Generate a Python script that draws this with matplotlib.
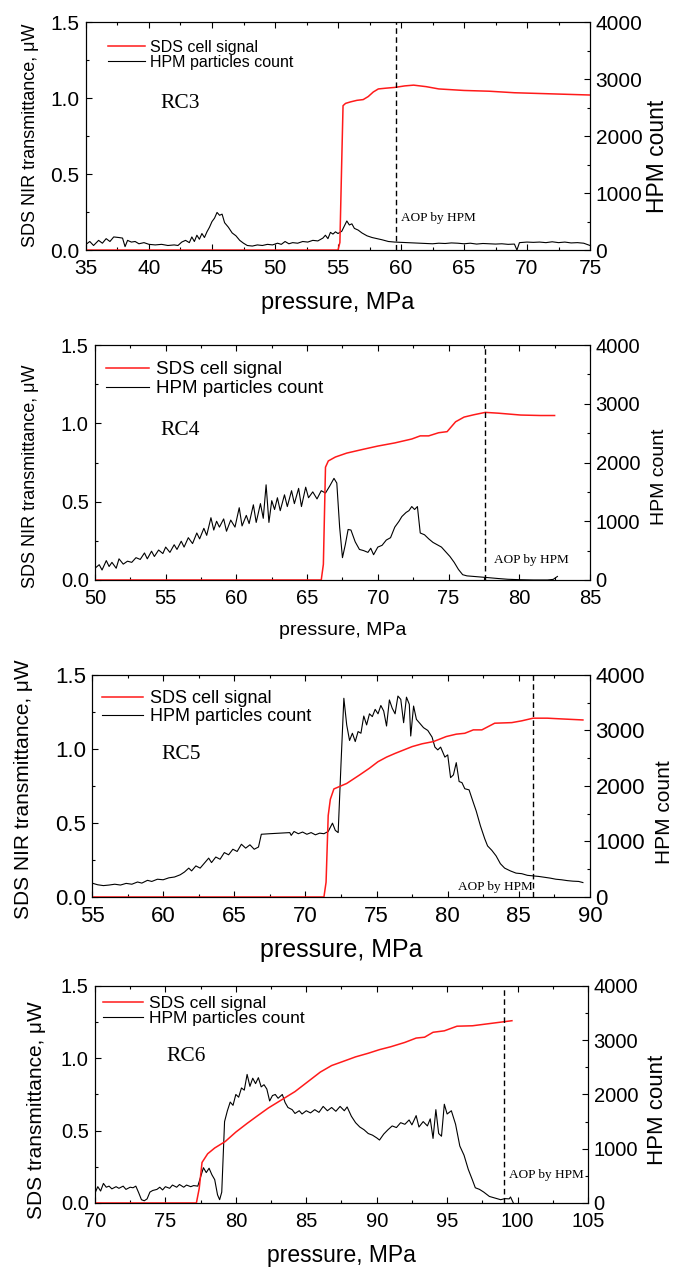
import matplotlib
matplotlib.use("Agg")
from matplotlib import pyplot as plt
from matplotlib.ticker import MultipleLocator

plt.rcParams['font.family'] = ['Liberation Sans', 'DejaVu Sans']

# ---- RC3 ----
rc3_sds_p = [35.0, 55.0, 55.15, 55.3, 55.4, 55.6, 56.0, 56.5, 57.0, 57.4, 57.8, 58.2, 58.8,
             59.5, 60.3, 61.0, 62.0, 63.0, 65.0, 67.0, 69.0, 71.0, 73.0, 75.0]
rc3_sds = [0.0, 0.0, 0.05, 0.6, 0.95, 0.965, 0.975, 0.985, 0.99, 1.01, 1.04, 1.06, 1.065,
           1.07, 1.08, 1.085, 1.075, 1.06, 1.05, 1.045, 1.035, 1.03, 1.025, 1.02]
rc3_hpm_p = [35.0, 35.3, 35.6, 36.0, 36.3, 36.6, 36.9, 37.2, 37.6, 37.9, 38.1, 38.3, 38.6, 38.9,
             39.2, 39.6, 40.0, 40.5, 41.0, 41.5, 42.0, 42.3, 42.6, 42.9, 43.2, 43.4, 43.6, 43.8,
             44.0, 44.2, 44.4, 44.6, 44.8, 45.0, 45.2, 45.4, 45.6, 45.8, 46.0, 46.3, 46.6, 46.9,
             47.2, 47.5, 47.8, 48.2, 48.6, 49.0, 49.4, 49.8, 50.2, 50.5, 50.8, 51.1, 51.4, 51.8,
             52.2, 52.6, 53.0, 53.4, 53.8, 54.0, 54.2, 54.4, 54.6, 54.8, 55.0, 55.3, 55.5, 55.7,
             55.9, 56.1, 56.3, 56.6, 56.9, 57.3, 57.7, 58.1, 58.5, 59.0, 59.5, 60.0, 60.5, 61.0,
             61.5, 62.0, 62.5, 63.0, 63.5, 64.0, 64.5, 65.0, 65.5, 66.0, 66.5, 67.0, 67.5, 68.0,
             68.5, 69.0, 69.2, 69.4, 70.0, 70.5, 71.0, 71.5, 72.0, 72.5, 73.0, 73.5, 74.0, 74.5,
             75.0]
rc3_hpm = [100, 150, 80, 170, 120, 200, 150, 230, 220, 210, 60, 170, 140, 150,
           110, 130, 100, 90, 100, 80, 90, 80, 140, 170, 130, 230, 150, 260,
           190, 290, 220, 320, 400, 500, 560, 660, 610, 630, 480, 400, 300, 250,
           170, 120, 80, 70, 90, 80, 100, 90, 120, 100, 150, 110, 130, 120,
           150, 140, 170, 160, 210, 260, 200, 310, 280, 320, 290, 330, 420, 510,
           440, 460, 380, 350, 300, 250, 220, 200, 180, 150, 140, 135, 130, 125,
           120, 115, 110, 120, 115, 125, 120, 110, 120, 105, 115, 110, 105, 110,
           100, 105, 0, 130, 140, 135, 140, 130, 145, 130, 140, 125, 130, 120,
           80]

# ---- RC4 ----
rc4_sds_p = [50.0, 66.0, 66.15, 66.3, 66.5, 67.0, 67.8, 69.0, 70.0, 71.2, 72.4, 73.0, 73.6,
             74.3, 74.9, 75.5, 76.1, 76.8, 77.6, 78.5, 80.1, 81.5, 82.5]
rc4_sds = [0.0, 0.0, 0.1, 0.72, 0.76, 0.785, 0.81, 0.835, 0.855, 0.875, 0.9, 0.92, 0.92,
           0.94, 0.947, 1.01, 1.04, 1.055, 1.07, 1.065, 1.053, 1.05, 1.05]
rc4_hpm_p = [50.0, 50.3, 50.5, 50.8, 51.0, 51.2, 51.5, 51.7, 52.0, 52.3, 52.6, 52.9, 53.2,
             53.5, 53.7, 54.0, 54.2, 54.5, 54.8, 55.0, 55.3, 55.6, 55.8, 56.1, 56.3, 56.6,
             56.9, 57.2, 57.4, 57.7, 57.9, 58.2, 58.4, 58.6, 58.8, 59.1, 59.3, 59.6, 59.9,
             60.2, 60.4, 60.7, 60.9, 61.2, 61.4, 61.7, 61.9, 62.1, 62.3, 62.5, 62.7, 62.9,
             63.1, 63.4, 63.6, 63.9, 64.1, 64.4, 64.6, 64.9, 65.1, 65.4, 65.7, 66.0, 66.3,
             66.6, 66.9, 67.1, 67.3, 67.5, 67.7, 67.9, 68.1, 68.4, 68.7, 69.0, 69.3, 69.5,
             69.7, 70.0, 70.3, 70.6, 70.9, 71.2, 71.5, 71.7, 72.0, 72.2, 72.4, 72.6, 72.8,
             73.0, 73.3, 73.6, 73.9, 74.2, 74.5, 74.8, 75.1, 75.4, 75.7, 76.0, 76.3, 76.8,
             77.3, 77.8, 78.5, 79.2, 80.0, 81.0, 82.0, 82.4, 82.7]
rc4_hpm = [200, 260, 170, 330, 230, 300, 200, 360, 270, 320, 300, 380, 350,
           460, 360, 490, 400, 510, 450, 560, 470, 600, 520, 660, 560, 720,
           620, 800, 700, 880, 760, 1060, 850, 1000, 900, 1040, 830, 1020, 900,
           1230, 920, 1100, 960, 1280, 980, 1300, 1050, 1620, 980, 1350, 1200, 1400,
           1180, 1450, 1250, 1520, 1300, 1560, 1250, 1580, 1400, 1500, 1380, 1520, 1480,
           1600, 1730, 1650, 900, 380, 600, 860, 850, 650, 520, 500, 470, 540,
           430, 560, 590, 680, 720, 900, 1000, 1080, 1150, 1180, 1250, 1200, 1250,
           800, 770, 700, 640, 600, 560, 480, 400, 300, 180, 90, 70, 60,
           50, 40, 25, 12, 5, 0, 0, 10, 60]

# ---- RC5 ----
rc5_sds_p = [55.0, 71.3, 71.45, 71.6, 71.75, 72.0, 72.9, 73.8, 74.5, 75.1, 75.7, 76.3, 77.5,
             78.2, 79.0, 79.9, 80.6, 81.2, 81.8, 82.4, 83.3, 84.5, 85.2, 86.0, 87.0, 88.0, 89.5]
rc5_sds = [0.0, 0.0, 0.1, 0.55, 0.66, 0.73, 0.767, 0.824, 0.87, 0.914, 0.945, 0.97, 1.016,
           1.035, 1.05, 1.084, 1.1, 1.106, 1.129, 1.129, 1.174, 1.178, 1.19, 1.208, 1.208, 1.203, 1.196]
rc5_hpm_p = [55.0, 55.4, 55.8, 56.2, 56.6, 57.0, 57.4, 57.8, 58.2, 58.5, 58.9, 59.2, 59.6,
             60.0, 60.4, 60.8, 61.2, 61.5, 61.8, 62.0, 62.3, 62.6, 62.9, 63.2, 63.4, 63.7,
             64.0, 64.3, 64.6, 64.9, 65.2, 65.5, 65.8, 66.1, 66.4, 66.7, 66.9, 67.5, 68.2,
             68.9, 69.0, 69.2, 69.5, 69.8, 70.1, 70.4, 70.7, 71.0, 71.3, 71.6, 71.9, 72.1,
             72.3, 72.5, 72.7, 72.9, 73.1, 73.3, 73.5, 73.7, 73.9, 74.1, 74.3, 74.5, 74.7,
             74.9, 75.1, 75.3, 75.5, 75.7, 75.9, 76.1, 76.3, 76.5, 76.7, 76.9, 77.1, 77.3,
             77.4, 77.6, 77.8, 78.0, 78.3, 78.6, 78.9, 79.1, 79.3, 79.5, 79.8, 80.0, 80.2,
             80.4, 80.6, 80.8, 81.0, 81.2, 81.5, 81.8, 82.0, 82.3, 82.6, 82.8, 83.1, 83.4,
             83.7, 84.0, 84.4, 84.8, 85.2, 85.6, 86.0, 86.4, 86.8, 87.2, 87.6, 88.0, 88.4,
             88.8, 89.2, 89.5]
rc5_hpm = [250, 220, 205, 215, 230, 215, 245, 230, 270, 250, 300, 280, 320,
           310, 345, 360, 400, 450, 520, 470, 560, 520, 610, 700, 620, 720,
           680, 800, 760, 860, 820, 950, 880, 940, 860, 900, 1130, 1140, 1150,
           1160, 1110, 1180, 1140, 1170, 1130, 1160, 1120, 1150, 1140, 1180, 1330, 1200,
           1160, 2400, 3580, 3100, 2820, 2950, 2800, 2980, 2950, 3260, 3100, 3300, 3250,
           3380, 3300, 3450, 3350, 3080, 3550, 3400, 3300, 3620, 3560, 3140, 3600, 3470,
           2900, 3440, 3200, 3140, 3050, 3000, 2880, 2700, 2650, 2700, 2520, 2560, 2150,
           2200, 2420, 2080, 2060, 1950, 1930, 1700, 1550, 1280, 1050, 920, 840, 740,
           600, 520, 470, 430, 420, 390, 380, 370, 355, 340, 320, 310, 295,
           285, 280, 260]

# ---- RC6 ----
rc6_sds_p = [70.0, 77.2, 77.4, 77.6, 77.8, 78.0, 78.5, 79.25, 80.0, 80.8, 81.5, 82.3, 83.2,
             84.2, 85.0, 86.0, 86.8, 87.6, 88.5, 89.4, 90.2, 91.0, 92.0, 92.8, 93.4, 94.0,
             94.8, 95.7, 96.8, 98.0, 99.6]
rc6_sds = [0.0, 0.0, 0.1, 0.28, 0.31, 0.34, 0.38, 0.425, 0.49, 0.55, 0.6, 0.656, 0.71,
           0.77, 0.83, 0.905, 0.95, 0.978, 1.01, 1.035, 1.06, 1.08, 1.11, 1.14, 1.146, 1.18,
           1.19, 1.222, 1.225, 1.24, 1.26]
rc6_hpm_p = [70.0, 70.2, 70.4, 70.6, 70.8, 71.0, 71.2, 71.5, 71.7, 72.0, 72.2, 72.5, 72.7,
             72.9, 73.1, 73.3, 73.5, 73.7, 73.9, 74.1, 74.4, 74.6, 74.8, 75.0, 75.3, 75.5,
             75.8, 76.0, 76.3, 76.5, 76.8, 77.0, 77.3, 77.5, 77.7, 77.9, 78.1, 78.3, 78.5,
             78.7, 78.85, 79.0, 79.2, 79.4, 79.6, 79.8, 80.0, 80.2, 80.4, 80.6, 80.8, 81.0,
             81.2, 81.4, 81.6, 81.8, 82.0, 82.2, 82.4, 82.6, 82.8, 83.0, 83.3, 83.5, 83.7,
             84.0, 84.2, 84.5, 84.7, 85.0, 85.3, 85.6, 85.9, 86.2, 86.5, 86.8, 87.1, 87.4,
             87.7, 87.9, 88.2, 88.5, 88.8, 89.1, 89.4, 89.7, 90.0, 90.2, 90.5, 90.8, 91.1,
             91.4, 91.7, 92.0, 92.3, 92.5, 92.8, 93.0, 93.3, 93.6, 93.8, 94.0, 94.2, 94.4,
             94.6, 94.8, 95.0, 95.3, 95.6, 95.9, 96.2, 96.5, 96.8, 97.0, 97.3, 97.6, 98.0,
             98.4, 98.8, 99.1, 99.4, 99.5, 99.7]
rc6_hpm = [180, 300, 220, 360, 290, 310, 260, 300, 270, 310, 250, 290, 280,
           310, 190, 60, 40, 75, 200, 230, 250, 290, 240, 300, 270, 330,
           290, 340, 290, 330, 300, 320, 310, 480, 650, 560, 640, 520, 430,
           150, 60, 200, 1500, 1700, 1860, 1800, 2000, 1950, 2120, 2080, 2370, 2150,
           2300, 2200, 2310, 2140, 2180, 2100, 1880, 1980, 2000, 1930, 2000, 1850, 1760,
           1720, 1650, 1700, 1640, 1700, 1660, 1720, 1670, 1780, 1700, 1760, 1690, 1780,
           1700, 1770, 1600, 1480, 1400, 1350, 1280, 1250, 1200, 1160, 1270, 1350, 1420,
           1390, 1480, 1450, 1530, 1440, 1610, 1400, 1500, 1420, 1550, 1190, 1720, 1280,
           1230, 1820, 1640, 1700, 1450, 1050, 880, 620, 420, 280, 250, 200, 120,
           90, 60, 80, 75, 110, 0]

panels = [
    dict(name='RC3', rect=[0.1274, 0.8028, 0.7467, 0.1798], xlim=(35, 75),
         sds=(rc3_sds_p, rc3_sds), hpm=(rc3_hpm_p, rc3_hpm),
         aop=59.6, aop_txt=(60.0, 0.21, 'left'), rc=(42.5, 0.967),
         ylab='SDS NIR transmittance, \u03bcW',
         tick=15, left=13, right=16.5, xl=17, leg=11.5,
         leg_xy=(0.044, 0.857), leg_sp=0.0,
         left_xy=(-0.111, 0.504), right_xy=(1.133, 0.41), xl_y=-0.232),
    dict(name='RC4', rect=[0.1407, 0.5426, 0.7333, 0.1853], xlim=(50, 85),
         sds=(rc4_sds_p, rc4_sds), hpm=(rc4_hpm_p, rc4_hpm),
         aop=77.6, aop_txt=(78.2, 0.13, 'left'), rc=(56.0, 0.957),
         ylab='SDS NIR transmittance, \u03bcW',
         tick=14.5, left=13, right=14, xl=14, leg=13.5,
         leg_xy=(0.023, 0.855), leg_sp=0.1,
         left_xy=(-0.131, 0.44), right_xy=(1.141, 0.44), xl_y=-0.213),
    dict(name='RC5', rect=[0.1363, 0.2926, 0.7378, 0.1751], xlim=(55, 90),
         sds=(rc5_sds_p, rc5_sds), hpm=(rc5_hpm_p, rc5_hpm),
         aop=86.0, aop_txt=(86.0, 0.07, 'right'), rc=(61.25, 0.96),
         ylab='SDS NIR transmittance, \u03bcW',
         tick=16, left=15, right=15, xl=18, leg=13,
         leg_xy=(0.02, 0.853), leg_sp=0.05,
         left_xy=(-0.137, 0.486), right_xy=(1.15, 0.38), xl_y=-0.239),
    dict(name='RC6', rect=[0.1407, 0.0513, 0.7304, 0.1711], xlim=(70, 105),
         sds=(rc6_sds_p, rc6_sds), hpm=(rc6_hpm_p, rc6_hpm),
         aop=99.05, aop_txt=(99.4, 0.19, 'left'), rc=(76.5, 1.01),
         ylab='SDS transmittance, \u03bcW',
         tick=14.5, left=15, right=16, xl=16.5, leg=12.5,
         leg_xy=(0.017, 0.885), leg_sp=0.0,
         left_xy=(-0.118, 0.43), right_xy=(1.14, 0.43), xl_y=-0.24),
]

fig = plt.figure(figsize=(6.75, 12.68), dpi=100)

for p in panels:
    ax = fig.add_axes(p['rect'])
    ax2 = ax.twinx()
    ax.set_zorder(ax2.get_zorder() + 1)
    ax.patch.set_visible(False)

    l1, = ax.plot(*p['sds'], color='#ff1a1a', lw=1.1, label='SDS cell signal')
    l2, = ax2.plot(*p['hpm'], color='black', lw=0.8, label='HPM particles count')
    ax.axvline(p['aop'], color='black', lw=1.0, ls=(0, (4, 2.5)))

    ax.set_xlim(*p['xlim'])
    ax.set_ylim(0, 1.5)
    ax2.set_ylim(0, 4000)
    ax.xaxis.set_major_locator(MultipleLocator(5))
    ax.xaxis.set_minor_locator(MultipleLocator(2.5))
    ax.yaxis.set_major_locator(MultipleLocator(0.5))
    ax.yaxis.set_minor_locator(MultipleLocator(0.25))
    ax2.yaxis.set_major_locator(MultipleLocator(1000))
    ax2.yaxis.set_minor_locator(MultipleLocator(500))
    ax.yaxis.set_major_formatter(lambda v, pos: f'{v:.1f}')

    ax.tick_params(which='both', direction='in', top=True, labelsize=p['tick'])
    ax.tick_params(axis='x', which='both', pad=6.5)
    ax.tick_params(axis='y', which='both', pad=4.5)
    ax.tick_params(which='major', length=4, width=0.8)
    ax.tick_params(which='minor', length=2.5, width=0.8)
    ax2.tick_params(which='both', direction='in', labelsize=p['tick'], pad=4)
    ax2.tick_params(which='major', length=4, width=0.8)
    ax2.tick_params(which='minor', length=2.5, width=0.8)

    ax.text(0.5, p['xl_y'], 'pressure, MPa', transform=ax.transAxes,
            ha='center', va='center', fontsize=p['xl'])
    ax.text(*p['left_xy'], p['ylab'], transform=ax.transAxes, rotation=90,
            ha='center', va='center', fontsize=p['left'])
    ax.text(*p['right_xy'], 'HPM count', transform=ax.transAxes, rotation=90,
            ha='center', va='center', fontsize=p['right'])

    ax.text(*p['rc'], p['name'], family='Liberation Serif', fontsize=15.5,
            ha='center', va='center')
    tx, ty, ha = p['aop_txt']
    ax.text(tx, ty, 'AOP by HPM', family='Liberation Serif', fontsize=9.5,
            ha=ha, va='center')

    ax.legend([l1, l2], ['SDS cell signal', 'HPM particles count'],
              loc='center left', bbox_to_anchor=p['leg_xy'], frameon=False,
              fontsize=p['leg'], handlelength=2.3, handletextpad=0.35,
              borderpad=0, borderaxespad=0, labelspacing=p['leg_sp'])

fig.savefig('out.png', dpi=100)
